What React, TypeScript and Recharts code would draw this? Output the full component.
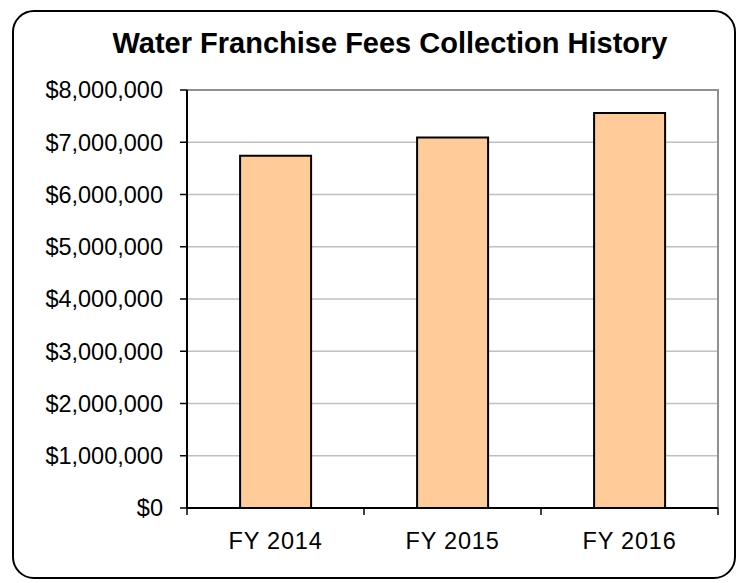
import { BarChart, Bar, XAxis, YAxis, CartesianGrid, ReferenceArea } from "recharts";

const years = ["FY 2014", "FY 2015", "FY 2016"];
const fees = [6740000, 7090000, 7560000];
const yTicks = [0, 1000000, 2000000, 3000000, 4000000, 5000000, 6000000, 7000000, 8000000];
const title = "Water Franchise Fees Collection History";

const data = years.map((year, i) => ({ year, fee: fees[i] }));

const font = "'Liberation Sans', Arial, sans-serif";

const money = (v: number) => "$" + v.toLocaleString("en-US");

// category tick: label in the middle, tick marks on the band edges
function YearTick(props: any) {
  const { x, y, payload, index, visibleTicksCount } = props;
  const half = payload.offset ?? 0;
  const last = index === (visibleTicksCount ?? years.length) - 1;
  return (
    <g>
      <line x1={x - half} x2={x - half} y1={y} y2={y + 7} stroke="#000" strokeWidth={1.5} />
      {last && <line x1={x + half} x2={x + half} y1={y} y2={y + 7} stroke="#000" strokeWidth={1.5} />}
      <text x={x} y={y + 41} textAnchor="middle" fill="#000" fontSize={23.5} letterSpacing={0.8} fontFamily={font}>
        {payload.value}
      </text>
    </g>
  );
}

export default function App() {
  return (
    <div style={{ position: "absolute", left: 0, top: 0, width: 741, height: 583, background: "#fff", fontFamily: font }}>
      <div
        style={{
          position: "absolute",
          left: 12,
          top: 10,
          width: 720,
          height: 565,
          border: "2px solid #000",
          borderRadius: 22,
        }}
      />
      <div
        style={{
          position: "absolute",
          left: 0,
          top: 27,
          width: 780,
          textAlign: "center",
          fontWeight: "bold",
          fontSize: 29,
          color: "#000",
          whiteSpace: "nowrap",
        }}
      >
        {title}
      </div>
      <div style={{ position: "absolute", left: 0, top: 0 }}>
        <BarChart
          width={741}
          height={583}
          data={data}
          margin={{ top: 90, right: 23, left: 0, bottom: 0 }}
          barCategoryGap="30%"
        >
          <CartesianGrid vertical={false} stroke="#c0c0c0" strokeWidth={1.5} />
          <ReferenceArea y1={0} y2={8000000} fill="none" stroke="#909090" strokeWidth={2} />
          <XAxis
            dataKey="year"
            height={75}
            tickLine={false}
            tickSize={0}
            tickMargin={0}
            axisLine={{ stroke: "#000", strokeWidth: 2 }}
            tick={<YearTick />}
            interval={0}
          />
          <YAxis
            width={187}
            domain={[0, 8000000]}
            ticks={yTicks}
            tickFormatter={money}
            axisLine={{ stroke: "#000", strokeWidth: 2 }}
            tickLine={{ stroke: "#000", strokeWidth: 1.5 }}
            tickSize={7}
            tickMargin={17}
            tick={{ fill: "#000", fontSize: 23.5, fontFamily: font }}
          />
          <Bar dataKey="fee" fill="#FFCC99" stroke="#000" strokeWidth={2} isAnimationActive={false} />
        </BarChart>
      </div>
    </div>
  );
}
